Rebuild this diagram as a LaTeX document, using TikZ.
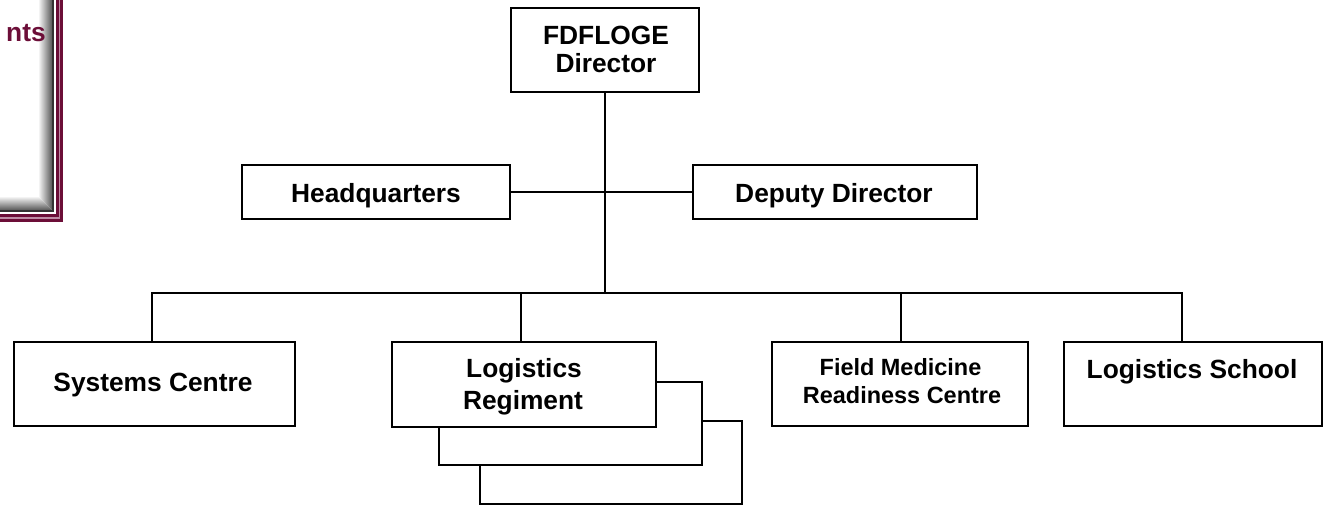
\documentclass[tikz,border=0pt]{standalone}
\usepackage{fontspec}
\setmainfont{Liberation Sans}
\definecolor{maroon}{RGB}{108,14,56}
\definecolor{pinkline}{RGB}{190,140,165}
\begin{document}
\begin{tikzpicture}[x=0.75pt,y=-0.75pt,
  box/.style={draw=black, line width=1.5pt, fill=white, inner sep=0pt},
  conn/.style={draw=black, line width=1.5pt},
  lbl/.style={font=\fontsize{19.75}{23}\selectfont\bfseries, inner sep=0pt, anchor=base},
  lblsmall/.style={font=\fontsize{17.6}{21}\selectfont\bfseries, inner sep=0pt, anchor=base}]
\useasboundingbox (0,0) rectangle (1324,505);
\fill[white] (0,0) rectangle (1324,505);
% decoration top-left
\shade[left color=white, right color=gray!60!black] (38,-5) rectangle (53,196);
\shade[top color=white, bottom color=gray!60!black] (-5,196) -- (38,196) -- (53,211) -- (-5,211) -- cycle;
\shade[left color=white, right color=gray!60!black] (38,196) -- (53,196) -- (53,211) -- cycle;
\draw[gray!40!black, line width=1.5pt] (53,-5) -- (53,211) -- (-5,211);
\draw[maroon, line width=5.5pt] (59.5,-5) -- (59.5,218) -- (-5,218);
\draw[pinkline, line width=1pt] (59.5,-5) -- (59.5,218) -- (-5,218);
\node[anchor=base east, inner sep=0pt, text=maroon, font=\fontsize{19.75}{23}\selectfont\bfseries] (nts) at (46,42) {nts};
% boxes
\node[box, minimum width=141pt, minimum height=63pt] (dir) at (605,50) {};
\node[box, minimum width=201pt, minimum height=40.5pt] (hq) at (376,192) {};
\node[box, minimum width=213pt, minimum height=40.5pt] (dep) at (835,192) {};
\node[box, minimum width=210.75pt, minimum height=63pt] (sys) at (154.5,384) {};
\node[box, minimum width=196.5pt, minimum height=62.25pt] (log3) at (611,462.5) {};
\node[box, minimum width=197.25pt, minimum height=62.25pt] (log2) at (570.5,423.5) {};
\node[box, minimum width=198pt, minimum height=63.75pt] (log) at (524,384.5) {};
\node[box, minimum width=192pt, minimum height=63pt] (fmr) at (900,384) {};
\node[box, minimum width=193.5pt, minimum height=63pt] (ls) at (1193,384) {};
% labels
\node[lbl] (t1) at (606,45) {FDFLOGE};
\node[lbl] (t2) at (606,73) {Director};
\node[lbl] (t3) at (376,202.5) {Headquarters};
\node[lbl] (t4) at (834,202.5) {Deputy Director};
\node[lbl] (t5) at (153,392) {Systems Centre};
\node[lbl] (t6) at (524,378) {Logistics};
\node[lbl] (t7) at (523,410) {Regiment};
\node[lblsmall] (t8) at (900.5,376) {Field Medicine};
\node[lblsmall] (t9) at (902,404) {Readiness Centre};
\node[lbl] (t10) at (1192,379) {Logistics School};
% connectors
\coordinate (b0) at (605,293);
\coordinate (b1) at (152,293);
\coordinate (b2) at (521,293);
\coordinate (b3) at (901,293);
\coordinate (b4) at (1182,293);
\draw[conn] (dir.south) -- (b0);
\draw[conn] (hq.east) -- (dep.west);
\draw[conn, line cap=rect] (b1) -- (b4);
\draw[conn] (b1) -- (b1 |- sys.north);
\draw[conn] (b2) -- (b2 |- log.north);
\draw[conn] (b3) -- (b3 |- fmr.north);
\draw[conn] (b4) -- (b4 |- ls.north);
\end{tikzpicture}
\end{document}
